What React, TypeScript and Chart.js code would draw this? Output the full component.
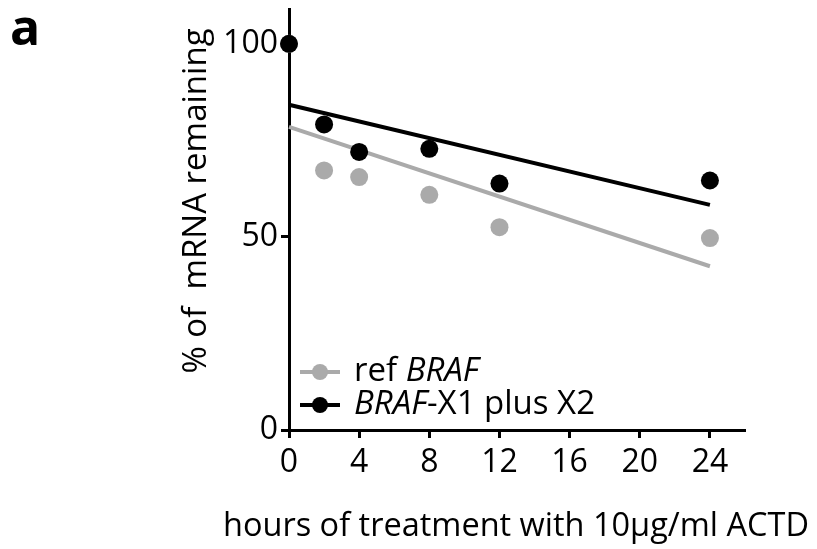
import React, { useEffect, useRef } from "react";
import { Chart, registerables } from "chart.js";

Chart.register(...registerables);

// ---- data ----
const hours = [0, 2, 4, 8, 12, 24];
const refBraf = [100, 67.2, 65.5, 60.9, 52.5, 49.7];
const brafX1X2 = [100, 79.1, 72.0, 72.8, 63.8, 64.6];
const fitHours = [0, 24];
const refBrafFit = [78.5, 42.4];
const brafX1X2Fit = [84.2, 58.3];
const xTickValues = [0, 4, 8, 12, 16, 20, 24];
const yTickValues = [0, 50, 100];
const xTitle = "hours of treatment with 10\u03bcg/ml ACTD";
const yTitle = "% of  mRNA remaining";
const legendEntries = [
  { parts: [{ t: "ref ", i: false }, { t: "BRAF", i: true }], color: "#aaaaaa" },
  { parts: [{ t: "BRAF", i: true }, { t: "-X1 plus X2", i: false }], color: "#000000" },
];

const GRAY = "#aaaaaa";
const BLACK = "#000000";
const FONT = "'Open Sans', 'Noto Sans', sans-serif";

const legendPlugin = {
  id: "customLegend",
  afterDraw(chart: any) {
    const { ctx, chartArea } = chart;
    ctx.save();
    const x0 = chartArea.left + 11;
    const rows = [chartArea.bottom - 58, chartArea.bottom - 25];
    legendEntries.forEach((entry, idx) => {
      const y = rows[idx];
      ctx.strokeStyle = entry.color;
      ctx.lineWidth = 4;
      ctx.beginPath();
      ctx.moveTo(x0, y);
      ctx.lineTo(x0 + 40, y);
      ctx.stroke();
      ctx.fillStyle = entry.color;
      ctx.beginPath();
      ctx.arc(x0 + 20, y, 8, 0, Math.PI * 2);
      ctx.fill();
      let tx = x0 + 54;
      ctx.fillStyle = "#000";
      ctx.textBaseline = "middle";
      entry.parts.forEach((p) => {
        ctx.font = `${p.i ? "italic " : ""}33px ${FONT}`;
        ctx.fillText(p.t, tx, y);
        tx += ctx.measureText(p.t).width;
      });
    });
    ctx.restore();
  },
};

const titlesPlugin = {
  id: "axisTitles",
  afterDraw(chart: any) {
    const { ctx, chartArea } = chart;
    ctx.save();
    ctx.fillStyle = "#000";
    ctx.textAlign = "center";
    ctx.textBaseline = "middle";
    // x title
    ctx.font = `32.5px ${FONT}`;
    ctx.fillText(xTitle, (chartArea.left + chartArea.right) / 2 - 1, chartArea.bottom + 97);
    // y title
    ctx.translate(chartArea.left - 92, chartArea.top + 192);
    ctx.rotate(-Math.PI / 2);
    ctx.font = `33px ${FONT}`;
    ctx.fillText(yTitle, 0, 0);
    ctx.restore();
  },
};

export default function App() {
  const ref = useRef<HTMLCanvasElement | null>(null);
  useEffect(() => {
    if (!ref.current) return;
    const toPts = (xs: number[], ys: number[]) => xs.map((x, i) => ({ x, y: ys[i] }));
    const chart = new Chart(ref.current, {
      type: "scatter",
      data: {
        datasets: [
          {
            label: "BRAF-X1 plus X2",
            data: toPts(hours, brafX1X2),
            backgroundColor: BLACK,
            borderColor: BLACK,
            pointRadius: 9,
            pointBorderWidth: 0,
            showLine: false,
            order: 0,
            clip: false,
          } as any,
          {
            label: "ref BRAF",
            data: toPts(hours, refBraf),
            backgroundColor: GRAY,
            borderColor: GRAY,
            pointRadius: 9,
            pointBorderWidth: 0,
            showLine: false,
            order: 1,
            clip: false,
          },
          {
            label: "BRAF-X1 plus X2 fit",
            data: toPts(fitHours, brafX1X2Fit),
            borderColor: BLACK,
            borderWidth: 4,
            pointRadius: 0,
            showLine: true,
            order: 2,
            clip: false,
          },
          {
            label: "ref BRAF fit",
            data: toPts(fitHours, refBrafFit),
            borderColor: GRAY,
            borderWidth: 4,
            pointRadius: 0,
            showLine: true,
            order: 3,
            clip: false,
          },
        ],
      },
      options: {
        animation: false,
        responsive: false,
        devicePixelRatio: 1,
        layout: { padding: { left: 178, right: 72, top: 8, bottom: 0 } },
        plugins: { legend: { display: false }, tooltip: { enabled: false } },
        scales: {
          x: {
            type: "linear",
            min: 0,
            max: 26,
            afterBuildTicks: (s: any) => {
              s.ticks = xTickValues.map((v) => ({ value: v }));
            },
            afterFit: (s: any) => {
              s.height = 119;
              s.paddingLeft = 0;
              s.paddingRight = 0;
            },
            ticks: { color: "#000", font: { family: FONT, size: 32 }, padding: 6, maxRotation: 0, autoSkip: false },
            grid: { display: true, drawOnChartArea: false, drawTicks: true, tickLength: 8, tickColor: "#000", tickWidth: 3 },
            border: { display: true, color: "#000", width: 3 },
            title: { display: false },
          },
          y: {
            type: "linear",
            min: 0,
            max: 109,
            afterBuildTicks: (s: any) => {
              s.ticks = yTickValues.map((v) => ({ value: v }));
            },
            afterFit: (s: any) => {
              s.width = 111;
              s.paddingTop = 0;
              s.paddingBottom = 0;
            },
            ticks: { color: "#000", font: { family: FONT, size: 32 }, padding: 3 },
            grid: { display: true, drawOnChartArea: false, drawTicks: true, tickLength: 8, tickColor: "#000", tickWidth: 3 },
            border: { display: true, color: "#000", width: 3 },
            title: { display: false },
          },
        },
      },
      plugins: [legendPlugin, titlesPlugin],
    });
    return () => chart.destroy();
  }, []);
  return (
    <div style={{ position: "fixed", left: 0, top: 0, width: 817, height: 549, background: "#fff" }}>
      <canvas ref={ref} width={817} height={549} />
      <div
        style={{
          position: "absolute",
          left: 10,
          top: 1,
          fontFamily: FONT,
          fontWeight: 700,
          fontSize: 50,
          lineHeight: "50px",
        }}
      >
        a
      </div>
    </div>
  );
}
